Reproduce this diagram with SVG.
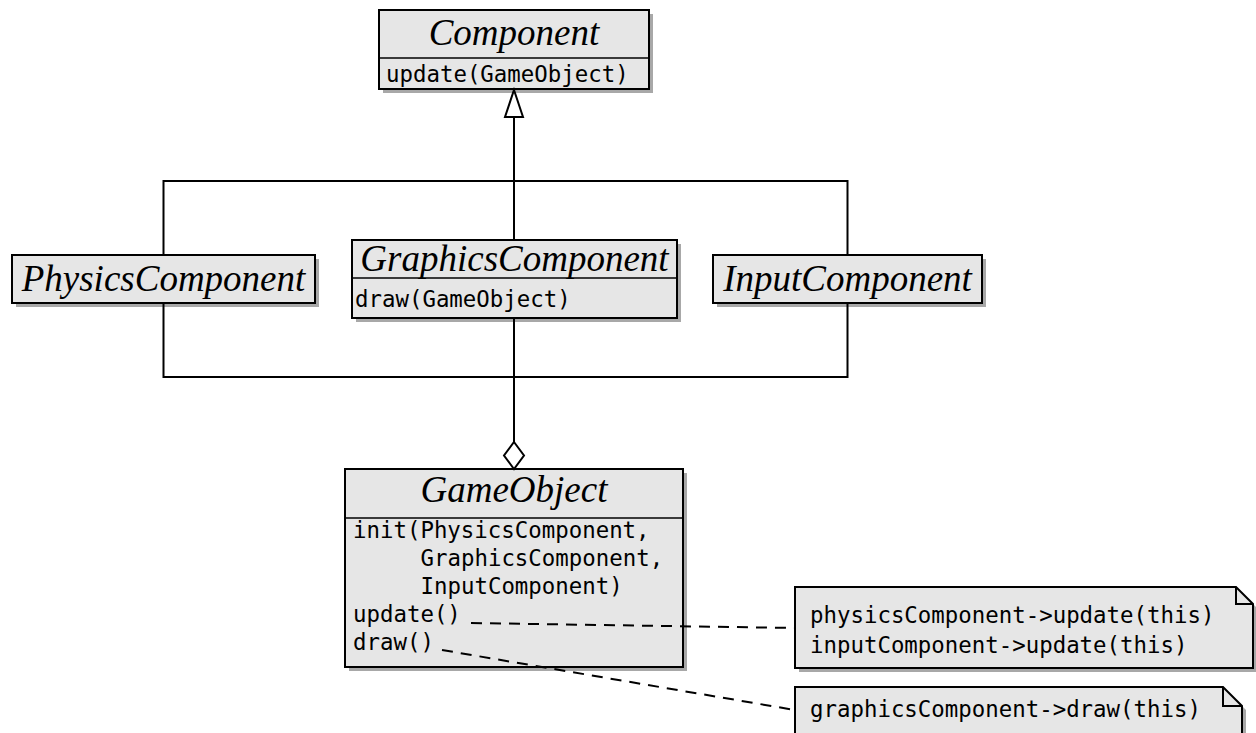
<svg xmlns="http://www.w3.org/2000/svg" width="1256" height="733" viewBox="0 0 1256 733">
  <style>
    .shadow { fill: #a8a8a8; stroke: none; }
    .box { fill: #e6e6e6; stroke: #000; stroke-width: 2; }
    .div { stroke: #000; stroke-width: 1.6; }
    .name { font-family: "Liberation Serif", "Times New Roman", serif; font-style: italic; font-size: 37px; fill: #000; text-anchor: middle; }
    .op { font-family: "DejaVu Sans Mono", monospace; font-size: 22.4px; fill: #000; }
    .line { fill: none; stroke: #000; stroke-width: 2; }
    .dash { fill: none; stroke: #000; stroke-width: 2; stroke-dasharray: 11 8; }
    .head { fill: #fff; stroke: #000; stroke-width: 2; stroke-linejoin: miter; }
  </style>
  <rect width="1256" height="733" fill="#fff"/>

  <!-- Component (abstract base) -->
  <g id="component">
    <rect class="shadow" x="383" y="14" width="270" height="79"/>
    <rect class="box" x="379" y="10" width="270" height="79"/>
    <line class="div" x1="379" y1="58" x2="649" y2="58"/>
    <text class="name" x="514" y="45">Component</text>
    <text class="op" x="386" y="82">update(GameObject)</text>
  </g>

  <!-- PhysicsComponent -->
  <g id="physics-component">
    <rect class="shadow" x="16" y="259" width="303" height="48"/>
    <rect class="box" x="12" y="255" width="303" height="48"/>
    <text class="name" x="163.5" y="291">PhysicsComponent</text>
  </g>

  <!-- GraphicsComponent -->
  <g id="graphics-component">
    <rect class="shadow" x="356" y="244" width="325" height="78"/>
    <rect class="box" x="352" y="240" width="325" height="78"/>
    <line class="div" x1="352" y1="278" x2="677" y2="278"/>
    <text class="name" x="514.5" y="271">GraphicsComponent</text>
    <text class="op" x="355" y="307">draw(GameObject)</text>
  </g>

  <!-- InputComponent -->
  <g id="input-component">
    <rect class="shadow" x="717" y="259" width="269" height="48"/>
    <rect class="box" x="713" y="255" width="269" height="48"/>
    <text class="name" x="847.5" y="291">InputComponent</text>
  </g>

  <!-- GameObject -->
  <g id="game-object">
    <rect class="shadow" x="349" y="473" width="338" height="198"/>
    <rect class="box" x="345" y="469" width="338" height="198"/>
    <line class="div" x1="345" y1="518" x2="683" y2="518"/>
    <text class="name" x="514" y="502">GameObject</text>
    <text class="op" x="353" y="538">init(PhysicsComponent,</text>
    <text class="op" x="420.5" y="566">GraphicsComponent,</text>
    <text class="op" x="420.5" y="594">InputComponent)</text>
    <text class="op" x="353" y="622">update()</text>
    <text class="op" x="353" y="650">draw()</text>
  </g>

  <!-- Note: update body -->
  <g id="note-update">
    <path class="shadow" d="M799 591 H1240 L1257 608 V672 H799 Z"/>
    <path class="box" d="M795 587 H1236 L1253 604 V668 H795 Z"/>
    <path class="line" d="M1236 587 V604 H1253"/>
    <text class="op" x="810" y="623">physicsComponent-&gt;update(this)</text>
    <text class="op" x="810" y="653">inputComponent-&gt;update(this)</text>
  </g>

  <!-- Note: draw body -->
  <g id="note-draw">
    <path class="shadow" d="M799 691 H1227 L1246 710 V740 H799 Z"/>
    <path class="box" d="M795 687 H1223 L1242 706 V740 H795 Z"/>
    <path class="line" d="M1223 687 V706 H1242"/>
    <text class="op" x="810" y="717">graphicsComponent-&gt;draw(this)</text>
  </g>

  <!-- Connectors -->
  <g id="connectors">
    <!-- generalization tree -->
    <line class="line" x1="514" y1="117" x2="514" y2="240"/>
    <path class="line" d="M163.5 255 V181 H847.5 V255"/>
    <polygon class="head" points="514,90 523,117 505,117"/>
    <!-- aggregation tree -->
    <path class="line" d="M163.5 303 V377 H847.5 V303"/>
    <line class="line" x1="514" y1="318" x2="514" y2="442"/>
    <polygon class="head" points="514,442 524,455.5 514,469 504,455.5"/>
    <!-- note anchors -->
    <line class="dash" x1="471" y1="623" x2="795" y2="628"/>
    <line class="dash" x1="442" y1="650" x2="795" y2="710"/>
  </g>
</svg>
